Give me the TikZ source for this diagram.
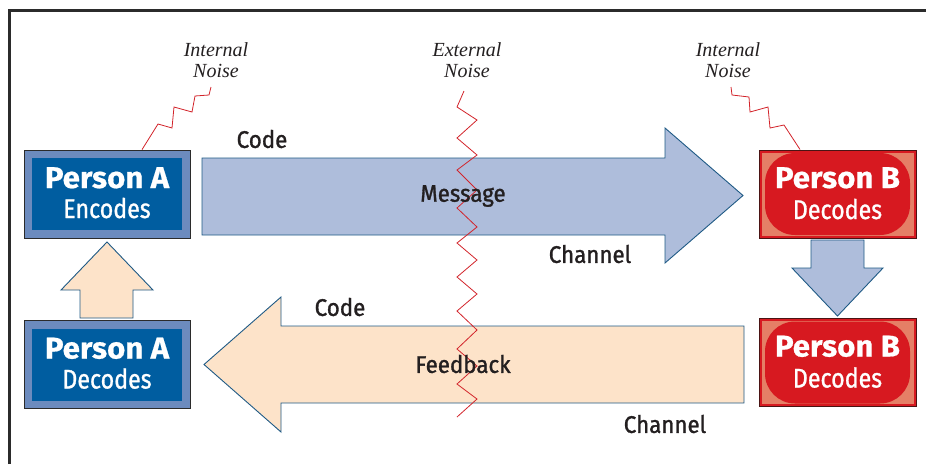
\documentclass[tikz,border=0pt]{standalone}
\usepackage{fontspec}
\setmainfont{Liberation Serif}
\newfontfamily\lblfont[FakeStretch=0.93, FakeBold=1.3]{Fira Sans}
\newfontfamily\titlefont[FakeStretch=1.04, FakeBold=0.6]{Fira Sans}
\newfontfamily\subfont[FakeStretch=0.86, FakeBold=1]{Fira Sans}
\usetikzlibrary{calc}
\definecolor{msgfill}{HTML}{AEBDDB}
\definecolor{fbfill}{HTML}{FDE3C9}
\definecolor{arrowline}{HTML}{1F5A85}
\definecolor{aouter}{HTML}{6C8BBE}
\definecolor{ainner}{HTML}{005DA0}
\definecolor{bred}{HTML}{D71920}
\definecolor{bsalmon}{HTML}{E57F66}
\definecolor{bborder}{HTML}{4A1414}
\definecolor{noisered}{HTML}{D2232A}
\definecolor{ink}{HTML}{231F20}
\definecolor{framegray}{HTML}{2B2B2B}
\tikzset{
  bigarrow/.style={draw=arrowline, line width=0.9pt, line join=miter},
  noise/.style={draw=noisered, line width=0.8pt, line join=miter},
  noiselabel/.style={font=\itshape\fontsize{20}{21}\selectfont, text=ink, align=center, inner sep=0pt},
  lbl/.style={font=\lblfont\fontsize{24}{26}\selectfont, text=ink, inner sep=0pt},
  personA/.style={draw=framegray, line width=0.8pt, fill=aouter, minimum width=166pt, minimum height=88pt,
    inner sep=0pt,
    path picture={\fill[ainner] ($(path picture bounding box.south west)+(8pt,8pt)$) rectangle ($(path picture bounding box.north east)+(-8pt,-8pt)$);}},
  personB/.style={draw=bborder, line width=1pt, fill=bred, minimum width=157pt, minimum height=88pt,
    inner sep=0pt,
    path picture={
      \fill[bsalmon] ($(path picture bounding box.south west)+(2.5pt,2.5pt)$) rectangle ($(path picture bounding box.north east)+(-2.5pt,-2.5pt)$);
      \fill[bred, rounded corners=30pt] ($(path picture bounding box.south west)+(6pt,3pt)$) rectangle ($(path picture bounding box.north east)+(-6pt,-3pt)$);}},
  boxtitle/.style={font=\titlefont\bfseries\fontsize{30}{30}\selectfont, text=white, anchor=base, inner sep=0pt},
  boxsub/.style={font=\subfont\fontsize{27}{28}\selectfont, text=white, anchor=base, inner sep=0pt}
}
\begin{document}
\begin{tikzpicture}[x=1pt,y=-1pt]
\useasboundingbox (0,0) rectangle (926,464);
% frame
\draw[framegray, line width=3pt] (9,464) -- (9,10) -- (926,10);

% big block arrows
\path[bigarrow, fill=msgfill] (202,158) -- (665,158) -- (665,128) -- (743,195.5) -- (665,263) -- (665,235) -- (202,235) -- cycle;
\path[bigarrow, fill=fbfill] (744,326) -- (281,326) -- (281,297) -- (204,364.5) -- (281,432) -- (281,403) -- (744,403) -- cycle;
\path[bigarrow, fill=fbfill] (80,318) -- (80,290) -- (61,290) -- (107,242) -- (153,290) -- (133,290) -- (133,318) -- cycle;
\path[bigarrow, fill=msgfill] (811,240) -- (864,240) -- (864,268) -- (883,268) -- (837.5,316) -- (792,268) -- (811,268) -- cycle;

% person boxes
\node[personA] (aEnc) at (107,194) {};
\node[personA] (aDec) at (107,364.5) {};
\node[personB] (bDec) at (837.5,194) {};
\node[personB] (bDec2) at (837.5,362.5) {};

% box texts
\node[boxtitle] (aEncT) at ($(aEnc.center)+(0,-6)$) {Person A};
\node[boxsub]   (aEncS) at ($(aEnc.center)+(0,24)$) {Encodes};
\node[boxtitle] (aDecT) at ($(aDec.center)+(0,-6)$) {Person A};
\node[boxsub]   (aDecS) at ($(aDec.center)+(0,24)$) {Decodes};
\node[boxtitle] (bDecT) at ($(bDec.center)+(0,-6)$) {Person B};
\node[boxsub]   (bDecS) at ($(bDec.center)+(0,25)$) {Decodes};
\node[boxtitle] (bDec2T) at ($(bDec2.center)+(0,-6)$) {Person B};
\node[boxsub]   (bDec2S) at ($(bDec2.center)+(0,25)$) {Decodes};

% noise labels
\node[noiselabel] (inA) at (216,60) {Internal\\Noise};
\node[noiselabel] (ext) at (467,60) {External\\Noise};
\node[noiselabel] (inB) at (728,60) {Internal\\Noise};

% noise zigzags
\draw[noise] ($(aEnc.north)+(35,0)$) -- (158,124) -- (172,128) -- (174,107) -- (192,112) -- (195,96) -- (209,95) -- (211,87);
\draw[noise] ($(bDec.north)+(-37.5,0)$) -- (784,125) -- (770,128) -- (768,107) -- (750,112) -- (749,97) -- (732,95) -- (731,87);
\draw[noise] (464,91) -- (457,107) -- (477,120) -- (457,138) -- (477,155) -- (457,170) -- (477,190) -- (457,208)
  -- (477,227) -- (457,243) -- (477,260) -- (457,277) -- (477,294) -- (457,311) -- (477,330) -- (457,349)
  -- (477,366) -- (457,384) -- (477,399) -- (457,417);

% arrow labels
\node[lbl] (code1) at (262,139) {Code};
\node[lbl] (msg) at (463,196) {Message};
\node[lbl] (ch1) at (590,254) {Channel};
\node[lbl] (code2) at (340,307) {Code};
\node[lbl] (fb) at (463,364) {Feedback};
\node[lbl] (ch2) at (665,424) {Channel};
\end{tikzpicture}
\end{document}
